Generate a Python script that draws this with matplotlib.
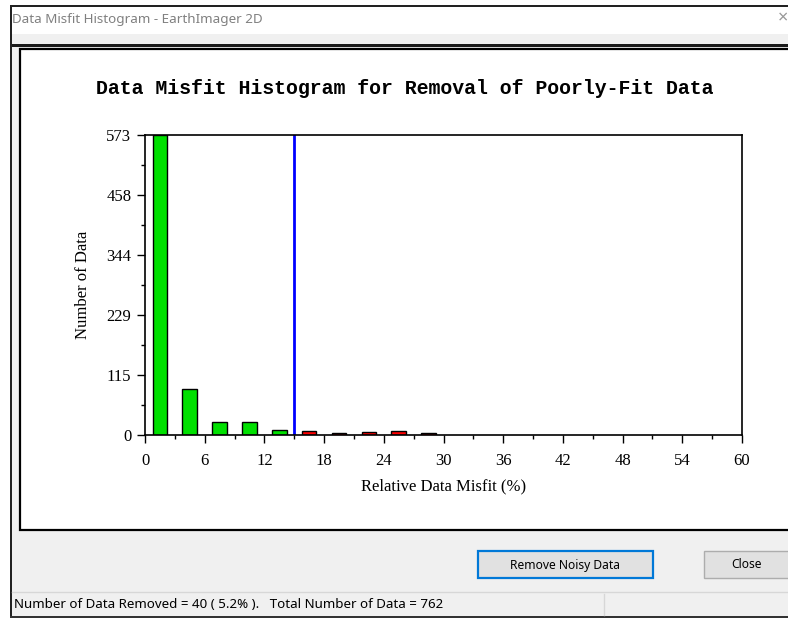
import numpy as np
import matplotlib.pyplot as plt
from matplotlib.patches import Rectangle

# histogram counts per 3 % misfit bin
bin_width = 3
green_centers = [1.5, 4.5, 7.5, 10.5, 13.5]
green_counts = [573, 87, 24, 24, 10]
red_centers = [16.5, 19.5, 22.5, 25.5, 28.5]
red_counts = [8, 3, 5, 8, 3]
threshold = 15

y_max = 573
y_ticks = [0, 115, 229, 344, 458, 573]
x_ticks = [0, 6, 12, 18, 24, 30, 36, 42, 48, 54, 60]

W, H = 788, 618
fig = plt.figure(figsize=(W / 100, H / 100), dpi=100)
fig.patch.set_facecolor('white')

# dialog chrome in pixel coordinates
bg = fig.add_axes([0, 0, 1, 1], zorder=0)
bg.set_xlim(0, W)
bg.set_ylim(H, 0)
bg.axis('off')

ui = ['Noto Sans', 'DejaVu Sans']
bg.add_patch(Rectangle((10, 34), W, H, facecolor='#f0f0f0', edgecolor='none'))
bg.add_patch(Rectangle((10, 5), W, 1.5, facecolor='#222222', edgecolor='none'))
bg.add_patch(Rectangle((10, 44), W, 2.5, facecolor='#1a1a1a', edgecolor='none'))
bg.add_patch(Rectangle((10, 5), 2, H, facecolor='#222222', edgecolor='none'))
bg.add_patch(Rectangle((12, 6.5), W, 27.5, facecolor='white', edgecolor='none'))
bg.text(12, 19, 'Data Misfit Histogram - EarthImager 2D', fontsize=9.7,
        family=ui, color='#808080', va='center', ha='left')
bg.text(783, 18, '×', fontsize=13, family=ui, color='#999999', va='center', ha='center')

# white plot panel
bg.add_patch(Rectangle((20, 49), 800, 481, facecolor='white', edgecolor='black', linewidth=1.6))

# buttons
bg.add_patch(Rectangle((478, 551), 175, 27, facecolor='#e1e1e1', edgecolor='#0078d7', linewidth=1.6))
bg.text(565.5, 565, 'Remove Noisy Data', fontsize=8.7, family=ui, color='black', ha='center', va='center')
bg.add_patch(Rectangle((704, 551), 100, 27, facecolor='#e1e1e1', edgecolor='#adadad', linewidth=1))
bg.text(747, 565, 'Close', fontsize=8.7, family=ui, color='black', ha='center', va='center')

# status bar
bg.plot([12, W], [592, 592], color='#d7d7d7', linewidth=1)
bg.plot([604, 604], [594, 615], color='#d7d7d7', linewidth=1)
bg.text(14, 605, 'Number of Data Removed = 40 ( 5.2% ).   Total Number of Data = 762',
        fontsize=9.6, family=ui, color='black', ha='left', va='center')
bg.add_patch(Rectangle((10, 615.5), W, 3, facecolor='#333333', edgecolor='none'))

# histogram axes
ax = fig.add_axes([145 / W, 1 - 435 / H, 597 / W, 300 / H], zorder=1)
ax.set_facecolor('white')
ax.bar(green_centers, green_counts, width=bin_width * 0.49, color='#00e000',
       edgecolor='black', linewidth=1)
ax.bar(red_centers, red_counts, width=bin_width * 0.49, color='#ff0000',
       edgecolor='black', linewidth=1)
ax.axvline(threshold, color='#0000ff', linewidth=2)

ax.set_xlim(0, 60)
ax.set_ylim(0, y_max)
serif = 'Liberation Serif'
ax.set_xticks(x_ticks)
ax.set_xticklabels([str(t) for t in x_ticks], family=serif, fontsize=12)
ax.set_xticks(np.arange(3, 60, 6), minor=True)
ax.set_yticks([y_max * k / 5 for k in range(6)])
ax.set_yticklabels([str(t) for t in y_ticks], family=serif, fontsize=12)
ax.set_yticks([y_max * (k + 0.5) / 5 for k in range(5)], minor=True)
ax.tick_params(which='major', direction='out', length=5.8, width=1, pad=7)
ax.tick_params(which='minor', direction='out', length=2.9, width=1)
ax.tick_params(axis='y', which='major', pad=4)
for s in ax.spines.values():
    s.set_linewidth(1.2)

ax.set_xlabel('Relative Data Misfit (%)', family=serif, fontsize=12, labelpad=7)
ax.set_ylabel('Number of Data', family=serif, fontsize=12, labelpad=11)

fig.text(405 / W, 1 - 88 / H, 'Data Misfit Histogram for Removal of Poorly-Fit Data',
         family='Liberation Mono', fontweight='bold', fontsize=14.3,
         ha='center', va='center')

fig.savefig('out.png', dpi=100)
